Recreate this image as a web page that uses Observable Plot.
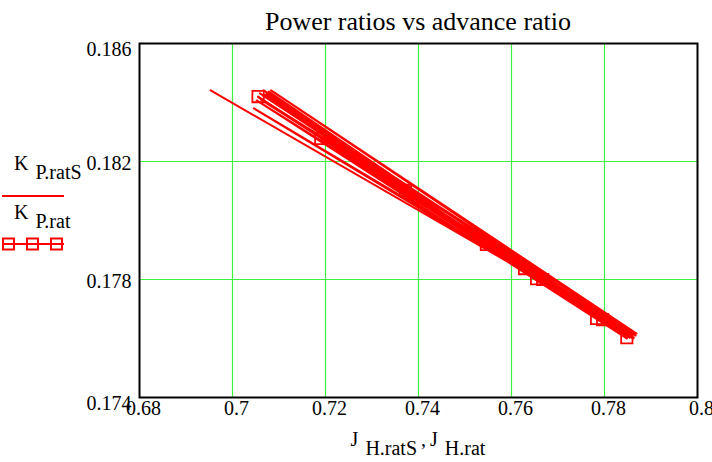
<!DOCTYPE html>
<html>
<head>
<meta charset="utf-8">
<script src="https://cdn.jsdelivr.net/npm/d3@7"></script>
<script src="https://cdn.jsdelivr.net/npm/@observablehq/plot@0.6"></script>
<style>
  html, body { margin: 0; padding: 0; background: #fff; }
  #wrap { position: relative; width: 712px; height: 462px; font-family: 'Liberation Serif', 'Times New Roman', Times, 'DejaVu Serif', serif; color: #000; }
  #wrap svg { position: absolute; left: 0; top: 0; }
  .title { position: absolute; left: 139px; width: 558px; top: 7px; text-align: center; font-size: 26px; white-space: nowrap; }
  .xlabel { position: absolute; left: 139px; width: 558px; top: 428px; text-align: center; font-size: 20px; white-space: nowrap; }
  .sub { position: relative; top: 9px; margin-left: 7px; }
  .leg { position: absolute; left: 14px; font-size: 20px; white-space: nowrap; }
  .legsym { position: absolute; left: 8px; }
</style>
</head>
<body>
<div id="wrap">
  <div class="title">Power ratios vs advance ratio</div>
  <div class="leg" style="top:152px">K<span class="sub">P.ratS</span></div>
  <svg class="legsym" style="top:189px" width="66" height="14"><line x1="2" x2="64" y1="7" y2="7" stroke="red" stroke-width="2"/></svg>
  <div class="leg" style="top:201px">K<span class="sub">P.rat</span></div>
  <svg class="legsym" style="top:236px" width="66" height="16">
    <line x1="2" x2="64" y1="8" y2="8" stroke="red" stroke-width="2"/>
    <rect x="3" y="2.5" width="11" height="11" fill="none" stroke="red" stroke-width="2"/>
    <rect x="27" y="2.5" width="11" height="11" fill="none" stroke="red" stroke-width="2"/>
    <rect x="51" y="2.5" width="11" height="11" fill="none" stroke="red" stroke-width="2"/>
  </svg>
  <div class="xlabel">J<span class="sub">H.ratS</span>&thinsp;,&thinsp;J<span class="sub">H.rat</span></div>
</div>
<script>
// Advance ratio J and power ratio K, smoothed run (line only)
const jS = [0.6953, 0.7867, 0.7046, 0.7863, 0.7067, 0.7856, 0.7056, 0.7372, 0.7852, 0.7078, 0.7547, 0.7861, 0.7065, 0.7792, 0.7052, 0.7848, 0.7074, 0.7858, 0.7061, 0.7865, 0.7083, 0.7869, 0.7070, 0.7854, 0.7059, 0.7850];
const kS = [0.18441, 0.17610, 0.18380, 0.17603, 0.18441, 0.17617, 0.18417, 0.18108, 0.17607, 0.18437, 0.17922, 0.17600, 0.18424, 0.17675, 0.18407, 0.17600, 0.18431, 0.17610, 0.18410, 0.17614, 0.18441, 0.17617, 0.18427, 0.17603, 0.18431, 0.17614];

// Measured run (line with square markers)
const jR = [0.7055, 0.7848, 0.7190, 0.7796, 0.7372, 0.7783, 0.7546, 0.7667, 0.7628, 0.7654];
const kR = [0.18420, 0.17603, 0.18278, 0.17664, 0.18102, 0.17668, 0.17919, 0.17800, 0.17837, 0.17803];

// Axis ticks
const xTicks = [0.68, 0.7, 0.72, 0.74, 0.76, 0.78, 0.8];
const yTicks = [0.174, 0.178, 0.182, 0.186];

const smooth = jS.map((j, i) => ({j, k: kS[i]}));
const measured = jR.map((j, i) => ({j, k: kR[i]}));
const fmt = d => String(+d.toFixed(3));
const green = "#3cf23c";
const serif = "'Liberation Serif', 'Times New Roman', Times, 'DejaVu Serif', serif";

const chart = Plot.plot({
  width: 712,
  height: 462,
  marginLeft: 139,
  marginRight: 15,
  marginTop: 43,
  marginBottom: 65,
  x: {domain: [0.68, 0.8], label: null},
  y: {domain: [0.174, 0.186], label: null},
  style: {fontFamily: serif, fontSize: "20px", color: "#000", background: "transparent"},
  marks: [
    Plot.gridX(xTicks.slice(1, -1), {stroke: green, strokeOpacity: 1, strokeWidth: 1.2}),
    Plot.gridY(yTicks.slice(1, -1), {stroke: green, strokeOpacity: 1, strokeWidth: 1.2}),
    Plot.line(smooth, {x: "j", y: "k", stroke: "red", strokeWidth: 2}),
    Plot.line(measured, {x: "j", y: "k", stroke: "red", strokeWidth: 2}),
    Plot.dot(measured, {x: "j", y: "k", symbol: "square", r: 6.4, stroke: "red", strokeWidth: 1.8, fill: "none"}),
    Plot.frame({stroke: "#000", strokeWidth: 2}),
    Plot.axisX(xTicks, {tickSize: 0, tickPadding: 3, tickFormat: fmt, dx: 4, label: null, fontFamily: serif}),
    Plot.axisY(yTicks.slice(1, -1), {tickSize: 0, tickPadding: 8, tickFormat: fmt, dy: 2, label: null, fontFamily: serif}),
    Plot.axisY(yTicks.filter((d, i) => i === 0 || i === yTicks.length - 1), {tickSize: 0, tickPadding: 8, tickFormat: fmt, dy: 6, label: null, fontFamily: serif})
  ]
});
document.getElementById("wrap").prepend(chart);
</script>
</body>
</html>
